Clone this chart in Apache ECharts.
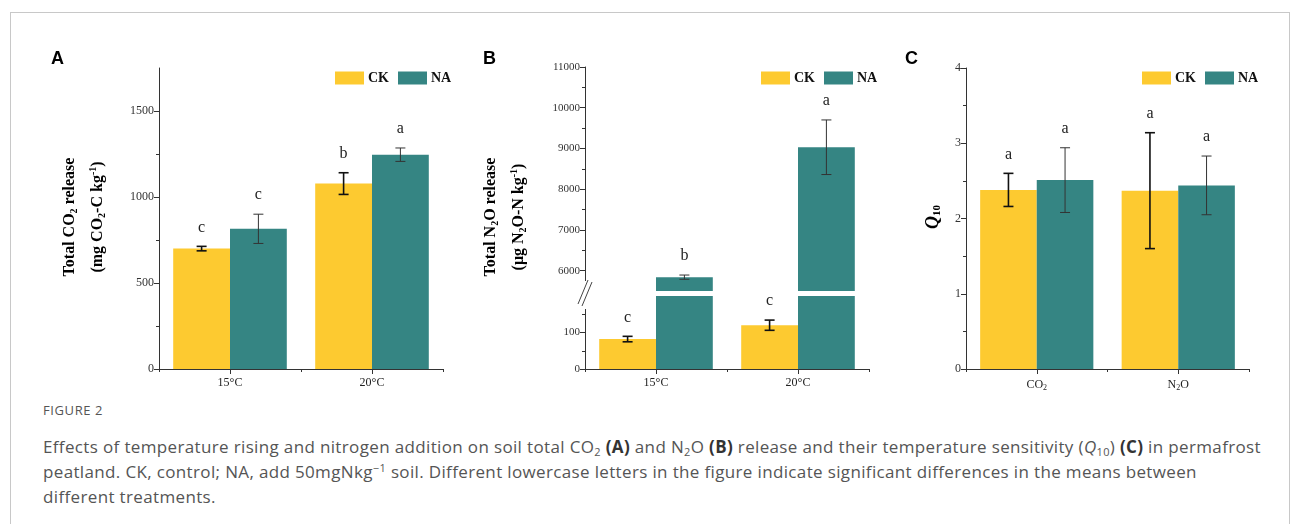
<!DOCTYPE html>
<html>
<head>
<meta charset="utf-8">
<script src="https://cdn.jsdelivr.net/npm/echarts@6/dist/echarts.min.js"></script>
<style>
  html, body { margin:0; padding:0; background:#fff; width:1295px; height:524px; overflow:hidden; }
  #frame { position:absolute; left:10px; top:12px; width:1280px; height:600px; border:1px solid #c8c8c8; box-sizing:border-box; }
  #chart { position:absolute; left:0; top:0; width:1295px; height:400px; }
  #figno { position:absolute; left:43px; top:401px; font-family:"Open Sans"; font-size:13px; color:#555; letter-spacing:0.6px; }
  #cap { position:absolute; left:43px; top:434px; font-family:"Open Sans"; font-size:17px; line-height:25px; color:#555; white-space:nowrap; }
  #cap sub { font-size:11px; line-height:0; vertical-align:-3px; }
  #cap sup { font-size:11px; line-height:0; vertical-align:6px; }
  #cap b { color:#333; }
</style>
</head>
<body>
<div id="frame"></div>
<div id="chart"></div>
<div id="figno">FIGURE 2</div>
<div id="cap"><span id="l1">Effects of temperature rising and nitrogen addition on soil total CO<sub>2</sub> <b>(A)</b> and N<sub>2</sub>O <b>(B)</b> release and their temperature sensitivity (<i>Q</i><sub>10</sub>) <b>(C)</b> in permafrost</span><br>peatland. CK, control; NA, add 50mgNkg<sup>−1</sup> soil. Different lowercase letters in the figure indicate significant differences in the means between<br>different treatments.</div>
<script>
// ---------------- DATA ----------------
const tempCategories = ['15°C', '20°C'];
const gasCategories = ['CO2', 'N2O'];
const seriesNames = ['CK', 'NA'];

// Panel A: total CO2 release (mg CO2-C kg-1)
const co2CK = [700, 1078];
const co2CKErr = [13, 63];
const co2CKLetters = ['c', 'b'];
const co2NA = [815, 1246];
const co2NAErr = [85, 39];
const co2NALetters = ['c', 'a'];

// Panel B: total N2O release (ug N2O-N kg-1)
const n2oCK = [82, 120];
const n2oCKErr = [7.5, 14];
const n2oCKLetters = ['c', 'c'];
const n2oNA = [5840, 9030];
const n2oNAErr = [52, 670];
const n2oNALetters = ['b', 'a'];

// Panel C: Q10
const q10CK = [2.38, 2.37];
const q10CKErr = [0.22, 0.77];
const q10CKLetters = ['a', 'a'];
const q10NA = [2.51, 2.44];
const q10NAErr = [0.43, 0.39];
const q10NALetters = ['a', 'a'];

// Axis ticks
const ticksA = [0, 500, 1000, 1500];
const minorTicksA = [250, 750, 1250];
const ticksBHigh = [6000, 7000, 8000, 9000, 10000, 11000];
const minorTicksBHigh = [6500, 7500, 8500, 9500, 10500];
const ticksBLow = [0, 100];
const minorTicksBLow = [50, 150];
const ticksC = [0, 1, 2, 3, 4];
const minorTicksC = [0.5, 1.5, 2.5, 3.5];

// ---------------- STYLE ----------------
const YELLOW = '#FDCA30';
const TEAL = '#358583';
const SERIF = '"Liberation Serif", "Times New Roman", serif';
const SANS = '"Liberation Sans", Arial, sans-serif';
const AX = '#333';

// fit caption first line to the reference width
(function () {
  const l1 = document.getElementById('l1');
  const cap = document.getElementById('cap');
  const w = l1.getBoundingClientRect().width;
  const n = l1.textContent.length;
  const target = 1218;
  cap.style.letterSpacing = ((target - w) / n).toFixed(3) + 'px';
})();

const chart = echarts.init(document.getElementById('chart'), null, { renderer: 'canvas' });

const GRIDS = [
  { left: 159, top: 68, width: 284, height: 301 },   // A
  { left: 585, top: 67, width: 284, height: 224 },   // B upper
  { left: 585, top: 296, width: 284, height: 73 },   // B lower
  { left: 966, top: 68, width: 283, height: 301 }    // C
];

function mainX(gridIndex, data, rich) {
  return {
    type: 'category', gridIndex, data, position: 'bottom',
    axisLine: { show: true, onZero: false, lineStyle: { color: AX, width: 1 } },
    axisTick: { show: true, alignWithLabel: true, length: 5, lineStyle: { color: AX } },
    axisLabel: Object.assign({ fontFamily: SERIF, fontSize: 12, color: '#222', margin: 8 },
      rich ? { rich, formatter: v => v === 'CO2' ? '{m|CO}{s|2}' : '{m|N}{s|2}{m|O}' } : {}),
    splitLine: { show: false }
  };
}
function overlayX(gridIndex, data) {
  return {
    type: 'category', gridIndex, data, position: 'top', offset: -GRIDS[gridIndex].height,
    axisLine: { show: false, onZero: false },
    axisTick: { show: true, inside: true, alignWithLabel: false, length: 3, lineStyle: { color: AX } },
    axisLabel: { show: false }, splitLine: { show: false }
  };
}
function hiddenX(gridIndex, data) {
  return { type: 'category', gridIndex, data, show: false };
}
function mainY(gridIndex, min, max, interval, ticks, fs) {
  return {
    type: 'value', gridIndex, min, max, interval, position: 'left',
    axisLine: { show: true, onZero: false, lineStyle: { color: AX, width: 1 } },
    axisTick: { show: true, length: 5, customValues: ticks, lineStyle: { color: AX } },
    axisLabel: { customValues: ticks, fontFamily: SERIF, fontSize: fs, color: '#333', margin: 5,
                 formatter: v => String(v) },
    splitLine: { show: false }
  };
}
function minorY(gridIndex, min, max, interval, ticks) {
  return {
    type: 'value', gridIndex, min, max, interval, position: 'right', offset: -GRIDS[gridIndex].width,
    axisLine: { show: false, onZero: false },
    axisTick: { show: true, inside: true, length: 3, customValues: ticks, lineStyle: { color: AX } },
    axisLabel: { show: false }, splitLine: { show: false }
  };
}

function barSeries(name, color, xi, yi, data) {
  return {
    type: 'bar', name, xAxisIndex: xi, yAxisIndex: yi, data,
    barGap: '0%', barCategoryGap: '20%',
    itemStyle: { color }, clip: true, z: 2
  };
}

function errSeries(name, xi, yi, values, errs, letters, offsetFrac, color, lw) {
  return {
    type: 'custom', name, xAxisIndex: xi, yAxisIndex: yi, z: 5, clip: false,
    data: values.map((v, i) => [i, v, errs[i]]),
    renderItem: function (params, api) {
      const i = api.value(0), v = api.value(1), e = api.value(2);
      const band = api.size([1, 0])[0];
      const x = api.coord([i, v])[0] + offsetFrac * band;
      const yT = api.coord([i, v + e])[1];
      const yB = api.coord([i, v - e])[1];
      const cap = 5;
      const ls = { stroke: color, lineWidth: lw };
      return {
        type: 'group',
        children: [
          { type: 'line', shape: { x1: x, y1: yT, x2: x, y2: yB }, style: ls },
          { type: 'line', shape: { x1: x - cap, y1: yT, x2: x + cap, y2: yT }, style: ls },
          { type: 'line', shape: { x1: x - cap, y1: yB, x2: x + cap, y2: yB }, style: ls },
          { type: 'text', x: x, y: yT - 19,
            style: { text: letters[params.dataIndex], fill: '#222', fontFamily: SERIF, fontSize: 16,
                     align: 'center', verticalAlign: 'middle' } }
        ]
      };
    }
  };
}

const titleRich = {
  t: { fontFamily: SERIF, fontWeight: 'bold', fontSize: 16, color: '#111', lineHeight: 28 },
  s: { fontFamily: SERIF, fontWeight: 'bold', fontSize: 10, color: '#111', padding: [9, 0, 0, 0] },
  p: { fontFamily: SERIF, fontWeight: 'bold', fontSize: 10, color: '#111', padding: [0, 0, 9, 0] }
};
const qRich = {
  q: { fontFamily: SERIF, fontWeight: 'bold', fontStyle: 'italic', fontSize: 18, color: '#111' },
  s: { fontFamily: SERIF, fontWeight: 'bold', fontSize: 11, color: '#111', padding: [9, 0, 0, 0] }
};
const xRich = {
  m: { fontFamily: SERIF, fontSize: 12, color: '#222' },
  s: { fontFamily: SERIF, fontSize: 8, color: '#222', padding: [7, 0, 0, 0] }
};

function legendAt(left) {
  return {
    left, top: 71, orient: 'horizontal', data: seriesNames, icon: 'rect',
    itemWidth: 29, itemHeight: 13, itemGap: 9, selectedMode: false, padding: 0,
    textStyle: { fontFamily: SERIF, fontWeight: 'bold', fontSize: 14, color: '#111', padding: [0, 0, 0, -1] }
  };
}

const option = {
  animation: false,
  backgroundColor: 'transparent',
  color: [YELLOW, TEAL],
  grid: GRIDS,
  legend: [legendAt(335), legendAt(761), legendAt(1142)],
  xAxis: [
    mainX(0, tempCategories),          // 0
    overlayX(0, tempCategories),       // 1
    hiddenX(1, tempCategories),        // 2
    mainX(2, tempCategories),          // 3
    overlayX(2, tempCategories),       // 4
    mainX(3, gasCategories, xRich),    // 5
    overlayX(3, gasCategories)         // 6
  ],
  yAxis: [
    mainY(0, 0, 1750, 250, ticksA, 12),             // 0
    minorY(0, 0, 1750, 250, minorTicksA),           // 1
    mainY(1, 5500, 11000, 500, ticksBHigh, 11),     // 2
    minorY(1, 5500, 11000, 500, minorTicksBHigh),   // 3
    mainY(2, 0, 200, 50, ticksBLow, 11),            // 4
    minorY(2, 0, 200, 50, minorTicksBLow),          // 5
    mainY(3, 0, 4, 1, ticksC, 12),                  // 6
    minorY(3, 0, 4, 1, minorTicksC)                 // 7
  ],
  series: [
    // A
    barSeries('CK', YELLOW, 0, 0, co2CK),
    barSeries('NA', TEAL, 0, 0, co2NA),
    errSeries('errA_CK', 0, 0, co2CK, co2CKErr, co2CKLetters, -0.2, '#111', 1.6),
    errSeries('errA_NA', 0, 0, co2NA, co2NAErr, co2NALetters, 0.2, '#333', 1),
    // B upper
    barSeries('CK', YELLOW, 2, 2, n2oCK.map(() => null)),
    barSeries('NA', TEAL, 2, 2, n2oNA),
    errSeries('errB_NA', 2, 2, n2oNA, n2oNAErr, n2oNALetters, 0.2, '#333', 1),
    // B lower
    barSeries('CK', YELLOW, 3, 4, n2oCK),
    barSeries('NA', TEAL, 3, 4, n2oNA),
    errSeries('errB_CK', 3, 4, n2oCK, n2oCKErr, n2oCKLetters, -0.2, '#111', 1.6),
    // C
    barSeries('CK', YELLOW, 5, 6, q10CK),
    barSeries('NA', TEAL, 5, 6, q10NA),
    errSeries('errC_CK', 5, 6, q10CK, q10CKErr, q10CKLetters, -0.2, '#111', 1.6),
    errSeries('errC_NA', 5, 6, q10NA, q10NAErr, q10NALetters, 0.2, '#333', 1)
  ],
  graphic: [
    // panel letters
    { type: 'text', x: 51, y: 59, style: { text: 'A', fontFamily: SANS, fontWeight: 'bold', fontSize: 18, fill: '#000', verticalAlign: 'middle' } },
    { type: 'text', x: 483, y: 59, style: { text: 'B', fontFamily: SANS, fontWeight: 'bold', fontSize: 18, fill: '#000', verticalAlign: 'middle' } },
    { type: 'text', x: 905, y: 59, style: { text: 'C', fontFamily: SANS, fontWeight: 'bold', fontSize: 18, fill: '#000', verticalAlign: 'middle' } },
    // axis titles
    { type: 'text', x: 84, y: 217, rotation: Math.PI / 2,
      style: { text: '{t|Total CO}{s|2}{t| release}\n{t|(mg CO}{s|2}{t|-C kg}{p|-1}{t|)}', rich: titleRich, align: 'center', verticalAlign: 'middle' } },
    { type: 'text', x: 505, y: 217, rotation: Math.PI / 2,
      style: { text: '{t|Total N}{s|2}{t|O release}\n{t|(μg N}{s|2}{t|O-N kg}{p|-1}{t|)}', rich: titleRich, align: 'center', verticalAlign: 'middle' } },
    { type: 'text', x: 933, y: 217, rotation: Math.PI / 2,
      style: { text: '{q|Q}{s|10}', rich: qRich, align: 'center', verticalAlign: 'middle' } },
    // axis break on panel B
    { type: 'rect', shape: { x: 579, y: 281, width: 10, height: 28 }, style: { fill: '#fff' }, z: 100 },
    { type: 'line', shape: { x1: 578, y1: 304, x2: 588, y2: 280 }, style: { stroke: '#444', lineWidth: 1 }, z: 101 },
    { type: 'line', shape: { x1: 582, y1: 306, x2: 592, y2: 282 }, style: { stroke: '#444', lineWidth: 1 }, z: 101 }
  ]
};

chart.setOption(option);
</script>
</body>
</html>
